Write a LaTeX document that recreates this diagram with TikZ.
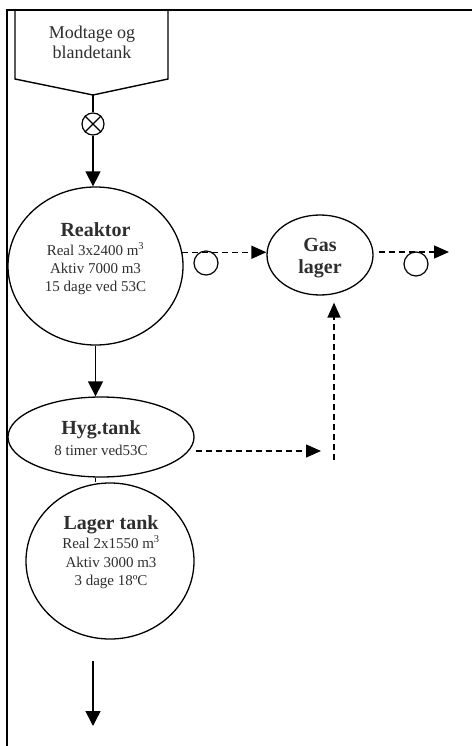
\documentclass[tikz,border=0pt]{standalone}
\usepackage{fontspec}
\setmainfont{Liberation Serif}
\usetikzlibrary{shapes.geometric,arrows.meta,calc}
\definecolor{txt}{gray}{0.18}
\begin{document}
\begin{tikzpicture}[x=1pt,y=-1pt,
  every node/.style={text=txt},
  frameline/.style={line width=2pt},
  flowline/.style={line width=1.4pt},
  gasline/.style={line width=1.4pt, dash pattern=on 6pt off 4pt},
  arr/.style={-{Triangle[width=15pt,length=15pt]}},
  garr/.style={-{Triangle[width=13pt,length=15pt]}},
  vessel/.style={draw, ellipse, line width=1.3pt, inner sep=0pt},
  ring/.style={draw, circle, line width=1.2pt, inner sep=0pt},
  ttl/.style={anchor=base, inner sep=0pt, font=\fontsize{20}{22}\selectfont\bfseries},
  dtl/.style={anchor=base, inner sep=0pt, font=\fontsize{15}{18}\selectfont},
  boxtxt/.style={align=center, inner sep=0pt, font=\fontsize{18}{20}\selectfont}
]
\useasboundingbox (0,0) rectangle (472,746);

% frame
\draw[frameline] (7,746) -- (7,10) -- (472,10);

% receiving / mixing tank
\draw[flowline] (15,10) -- (15,79) -- (93,95) -- (168,79) -- (168,10);
\coordinate (tankpt) at (93,95);
\node[boxtxt] (tanktxt) at (92,42) {Modtage og\\blandetank};

% valve
\node[ring, minimum size=22pt] (valve) at (93,124) {};
\draw[line width=1.2pt] (valve.north west) -- (valve.south east)
                        (valve.north east) -- (valve.south west);

% vessels
\node[vessel, minimum width=175pt, minimum height=158pt] (reactor) at (95.5,266) {};
\node[vessel, minimum width=106pt, minimum height=80pt] (gas) at (320,255) {};
\node[vessel, minimum width=186pt, minimum height=80pt] (hyg) at (101,437) {};
\node[vessel, minimum width=168pt, minimum height=156pt] (lager) at (110,561) {};

% texts
\node[ttl] (r1) at (95.5,236) {Reaktor};
\node[dtl] (r2) at (95.5,255) {Real 3x2400 m\textsuperscript{3}};
\node[dtl] (r3) at (95.5,273) {Aktiv 7000 m3};
\node[dtl] (r4) at (95.5,291) {15 dage ved 53C};

\node[ttl] (g1) at (320,251) {Gas};
\node[ttl] (g2) at (320,273) {lager};

\node[ttl] (h1) at (101,434) {Hyg.tank};
\node[dtl] (h2) at (101,455) {8 timer ved53C};

\node[ttl] (l1) at (111,529) {Lager tank};
\node[dtl] (l2) at (111,548) {Real 2x1550 m\textsuperscript{3}};
\node[dtl] (l3) at (111,567) {Aktiv 3000 m3};
\node[dtl] (l4) at (111,585) {3 dage 18ºC};

% solid flow
\draw[flowline] (tankpt) -- (valve.north);
\draw[flowline,arr] (valve.south) -- (valve.south |- reactor.north);
\draw[flowline,arr] (reactor.south) -- (reactor.south |- hyg.north);
\draw[flowline] (reactor.south |- hyg.south) -- (reactor.south |- lager.north);
\coordinate (outtop) at (93,661);
\coordinate (outbot) at (93,726);
\draw[flowline,arr] (outtop) -- (outbot);

% gas flow
\node[ring, minimum size=24pt] (c1) at (206,263) {};
\node[ring, minimum size=24pt] (c2) at (416,264) {};
\draw[gasline,garr] (reactor.9) -- (reactor.9 -| gas.west);
\coordinate (gasr) at ([xshift=5pt]gas.east);
\coordinate (gasend) at (449,252);
\draw[gasline,garr] (gasr |- gasend) -- (gasend);
\coordinate (hygr) at ([xshift=1pt]hyg.east);
\coordinate (hygend) at (321,451);
\draw[gasline,garr] (hygr |- hygend) -- (hygend);
\coordinate (vbot) at (334,460);
\coordinate (gasb) at ([yshift=-7pt]gas.south);
\draw[gasline,garr] (vbot) -- (vbot |- gasb);
\end{tikzpicture}
\end{document}
